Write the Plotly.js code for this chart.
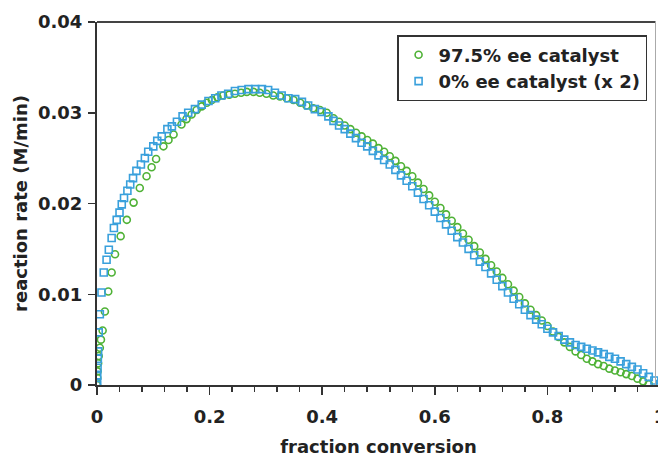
<!DOCTYPE html>
<html>
<head>
<meta charset="utf-8">
<script src="https://cdn.plot.ly/plotly-3.0.1.min.js"></script>
<style>
html, body { margin: 0; padding: 0; overflow: hidden; background: #fff; }
#chart { width: 662px; height: 459px; }
</style>
</head>
<body>
<div id="chart"></div>
<script>
// 97.5% ee catalyst (green circles)
const greenX = [0, 0.0005, 0.001, 0.002, 0.003, 0.005, 0.007, 0.010, 0.014, 0.020,
  0.026, 0.032, 0.042, 0.053, 0.065, 0.076, 0.088, 0.097, 0.105, 0.118,
  0.127, 0.136, 0.150, 0.159, 0.168, 0.177, 0.186, 0.195, 0.204, 0.214,
  0.224, 0.235, 0.245, 0.256, 0.266, 0.278, 0.289, 0.301, 0.313, 0.325,
  0.337, 0.349, 0.361, 0.372, 0.384, 0.396, 0.408,
  0.42, 0.43, 0.44, 0.45, 0.46, 0.47, 0.48, 0.49, 0.50, 0.51,
  0.52, 0.53, 0.54, 0.55, 0.56, 0.57, 0.58, 0.59, 0.60, 0.61,
  0.62, 0.63, 0.64, 0.65, 0.66, 0.67, 0.68, 0.69, 0.70, 0.71,
  0.72, 0.73, 0.74, 0.75, 0.76, 0.77, 0.78, 0.79, 0.80, 0.81,
  0.82, 0.83, 0.84, 0.85, 0.86, 0.87, 0.88, 0.89, 0.90, 0.91,
  0.92, 0.93, 0.94, 0.95, 0.96, 0.97, 0.98];
const greenY = [0, 0.0008, 0.0015, 0.0024, 0.0032, 0.0041, 0.0050, 0.0060, 0.0081, 0.0103,
  0.0124, 0.0144, 0.0164, 0.0182, 0.0201, 0.0217, 0.0230, 0.0240, 0.0249, 0.0263,
  0.0270, 0.0276, 0.0287, 0.0293, 0.0298, 0.0303, 0.0307, 0.0311, 0.0314, 0.0317,
  0.0319, 0.0320, 0.0321, 0.0322, 0.0323, 0.0323, 0.0322, 0.0321, 0.0319, 0.0318,
  0.0316, 0.0314, 0.0311, 0.0308, 0.0305, 0.0303, 0.0300,
  0.0294, 0.0290, 0.0286, 0.0282, 0.0278, 0.0274, 0.0270, 0.0266, 0.0261, 0.0257,
  0.0252, 0.0247, 0.0241, 0.0236, 0.0230, 0.0223, 0.0216, 0.0209, 0.0202, 0.0195,
  0.0188, 0.0181, 0.0174, 0.0167, 0.0160, 0.0153, 0.0146, 0.0139, 0.0132, 0.0125,
  0.0118, 0.0111, 0.0104, 0.0097, 0.0090, 0.0083, 0.0077, 0.0071, 0.0065, 0.0059,
  0.0053, 0.0047, 0.0042, 0.0037, 0.0033, 0.0029, 0.0026, 0.0023, 0.0021, 0.0018,
  0.0016, 0.0014, 0.0012, 0.0010, 0.0007, 0.0004, 0.0001];

// 0% ee catalyst (x 2) (blue squares)
const blueX = [0, 0, 0.0005, 0.001, 0.0015, 0.002, 0.003, 0.005, 0.008, 0.012,
  0.017, 0.021, 0.026, 0.030, 0.035, 0.040, 0.044, 0.048, 0.054, 0.059,
  0.064, 0.070, 0.078, 0.085, 0.091, 0.100, 0.107, 0.115, 0.125, 0.133,
  0.142, 0.152, 0.162, 0.174, 0.186, 0.198, 0.210, 0.221, 0.233, 0.245,
  0.257, 0.269, 0.281, 0.293, 0.304, 0.316, 0.328, 0.340, 0.352, 0.364,
  0.375, 0.387, 0.399, 0.411,
  0.42, 0.43, 0.44, 0.45, 0.46, 0.47, 0.48, 0.49, 0.50, 0.51,
  0.52, 0.53, 0.54, 0.55, 0.56, 0.57, 0.58, 0.59, 0.60, 0.61,
  0.62, 0.63, 0.64, 0.65, 0.66, 0.67, 0.68, 0.69, 0.70, 0.71,
  0.72, 0.73, 0.74, 0.75, 0.76, 0.77, 0.78, 0.79, 0.80, 0.81,
  0.82, 0.83, 0.84, 0.85, 0.86, 0.87, 0.88, 0.89, 0.90, 0.91,
  0.92, 0.93, 0.94, 0.95, 0.96, 0.97, 0.98, 0.99, 1.00];
const blueY = [0, 0.0003, 0.0010, 0.0019, 0.0029, 0.0037, 0.0058, 0.0078, 0.0102, 0.0124,
  0.0138, 0.0149, 0.0162, 0.0173, 0.0182, 0.0190, 0.0199, 0.0206, 0.0214, 0.0221,
  0.0228, 0.0236, 0.0243, 0.0250, 0.0257, 0.0263, 0.0269, 0.0274, 0.0282, 0.0285,
  0.0290, 0.0296, 0.0300, 0.0304, 0.0309, 0.0313, 0.0316, 0.0319, 0.0321, 0.0324,
  0.0325, 0.0326, 0.0326, 0.0326, 0.0325, 0.0322, 0.0319, 0.0316, 0.0315, 0.0312,
  0.0308, 0.0304, 0.0301, 0.0296,
  0.0291, 0.0286, 0.0282, 0.0277, 0.0272, 0.0267, 0.0263, 0.0258, 0.0253, 0.0248,
  0.0243, 0.0237, 0.0231, 0.0225, 0.0219, 0.0212, 0.0205, 0.0198, 0.0191, 0.0184,
  0.0177, 0.0170, 0.0163, 0.0157, 0.0150, 0.0143, 0.0136, 0.0130, 0.0123, 0.0116,
  0.0109, 0.0102, 0.0095, 0.0089, 0.0083, 0.0077, 0.0072, 0.0067, 0.0062, 0.0058,
  0.0054, 0.0050, 0.0047, 0.0044, 0.0042, 0.0040, 0.0038, 0.0036, 0.0034, 0.0031,
  0.0029, 0.0026, 0.0023, 0.0020, 0.0017, 0.0013, 0.0009, 0.0005, 0.0001];

const seriesNames = ['97.5% ee catalyst', '0% ee catalyst (x 2)'];
const xTitle = 'fraction conversion';
const yTitle = 'reaction rate (M/min)';

const FONT = 'DejaVu Sans, Verdana, sans-serif';
const TXT = '#222222';

const traces = [
  {
    x: greenX, y: greenY, name: seriesNames[0], type: 'scatter', mode: 'markers',
    cliponaxis: true,
    marker: { symbol: 'circle-open', size: 7, color: '#4fb236', line: { width: 1.6, color: '#4fb236' } }
  },
  {
    x: blueX, y: blueY, name: seriesNames[1], type: 'scatter', mode: 'markers',
    cliponaxis: true,
    marker: { symbol: 'square-open', size: 7, color: '#39a0dc', line: { width: 1.6, color: '#39a0dc' } }
  }
];

const layout = {
  width: 662, height: 459,
  margin: { l: 97, r: 2, t: 22, b: 74 },
  paper_bgcolor: '#ffffff', plot_bgcolor: '#ffffff',
  font: { family: FONT, size: 18, color: TXT, weight: 'bold' },
  showlegend: true,
  legend: {
    x: 0.533, y: 0.964, xanchor: 'left', yanchor: 'top',
    bgcolor: '#ffffff', bordercolor: '#333333', borderwidth: 1.5,
    font: { family: FONT, size: 18, color: TXT, weight: 'bold' },
    itemwidth: 30
  },
  xaxis: {
    range: [0, 1], dtick: 0.2, tick0: 0,
    showgrid: false, zeroline: false,
    showline: true, linecolor: '#333333', linewidth: 2,
    ticks: 'outside', ticklen: 8, tickwidth: 1.5, tickcolor: '#333333',
    ticklabeloverflow: 'allow', ticklabelstandoff: 6,
    minor: { dtick: 0.04, ticks: 'outside', ticklen: 5, tickwidth: 1.5, tickcolor: '#333333', showgrid: false },
    tickfont: { family: FONT, size: 18, color: TXT, weight: 'bold' },
    title: { text: xTitle, standoff: 15, font: { family: FONT, size: 18, color: TXT, weight: 'bold' } }
  },
  yaxis: {
    range: [0, 0.04], dtick: 0.01, tick0: 0,
    showgrid: false, zeroline: false,
    showline: true, linecolor: '#333333', linewidth: 2,
    ticks: 'outside', ticklen: 7, tickwidth: 1.5, tickcolor: '#333333',
    ticklabelstandoff: 2,
    tickfont: { family: FONT, size: 18, color: TXT, weight: 'bold' },
    title: { text: yTitle, standoff: 6, font: { family: FONT, size: 18, color: TXT, weight: 'bold' } }
  },
  shapes: [
    { type: 'line', xref: 'x', yref: 'paper', x0: 0, x1: 0.992, y0: 1, y1: 1,
      line: { color: '#444444', width: 2 } },
    { type: 'line', xref: 'x', yref: 'paper', x0: 0.992, x1: 0.992, y0: 0, y1: 1,
      line: { color: '#aaaaaa', width: 1 } }
  ]
};

Plotly.newPlot('chart', traces, layout, { displayModeBar: false, staticPlot: true });
</script>
</body>
</html>
